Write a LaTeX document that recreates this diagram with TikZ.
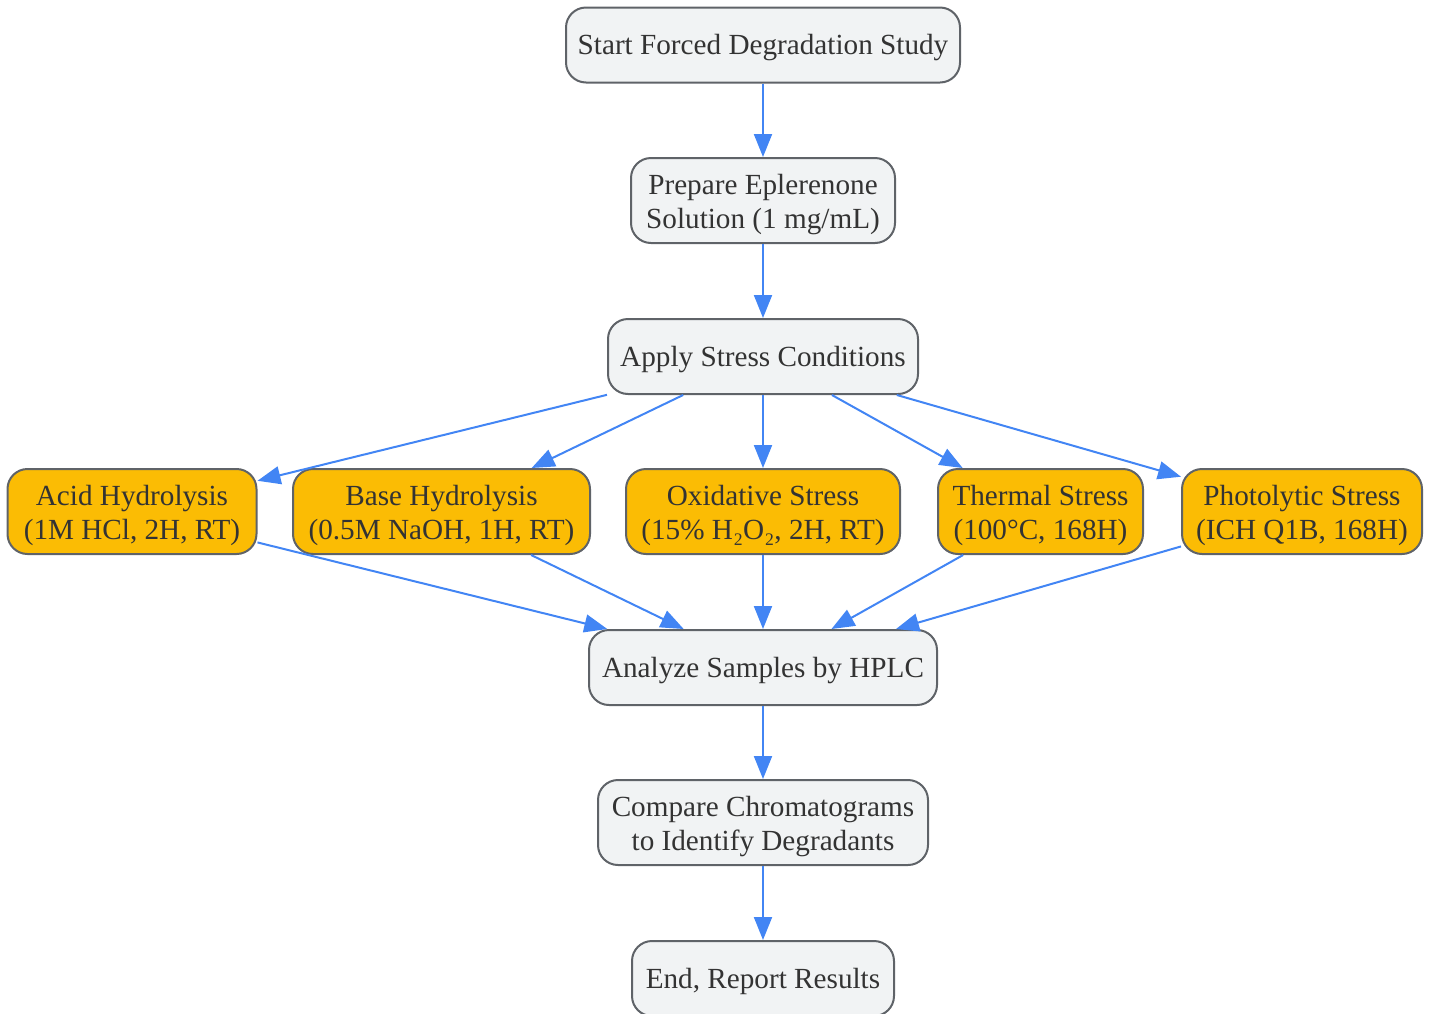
\documentclass[tikz,border=0pt]{standalone}
\usepackage{fontspec}
\setmainfont{Liberation Serif}
\usetikzlibrary{arrows.meta}

\definecolor{boxfill}{HTML}{F1F3F4}
\definecolor{stressfill}{HTML}{FBBC04}
\definecolor{boxline}{HTML}{5F6368}
\definecolor{flowline}{HTML}{4285F4}
\definecolor{boxtext}{HTML}{333333}

\tikzset{
  every box/.style={draw=boxline, line width=1pt, fill=boxfill,
    rounded corners=10pt, align=center, text=boxtext, inner sep=0pt,
    font=\fontsize{14.6}{17}\selectfont, minimum height=37.5pt,
    execute at begin node={\rule{0pt}{13pt}}},
  two lines/.style={minimum height=42.5pt, text height=30.5pt, text depth=3pt},
  every stress/.style={every box, two lines, fill=stressfill},
  flow/.style={->, draw=flowline, line width=1pt}
}

\begin{document}
\begin{tikzpicture}[x=0.5pt, y=-0.5pt, >={Triangle[length=11.5pt, width=9pt]}]

\useasboundingbox (0,0) rectangle (1431,1013);

\node [every box, minimum width=197pt] (start) at (763,45)
  {Start Forced Degradation Study};
\node [every box, two lines, minimum width=132pt] (prepare) at (763,200.5)
  {Prepare Eplerenone\\Solution (1 mg/mL)};
\node [every box, minimum width=155pt] (apply) at (763,356.5)
  {Apply Stress Conditions};

\foreach \x/\w/\l [count=\i] in {
    132/124.5/{Acid Hydrolysis\\(1M HCl, 2H, RT)},
    441.5/148.5/{Base Hydrolysis\\(0.5M NaOH, 1H, RT)},
    763/137/{Oxidative Stress\\(15\% H₂O₂, 2H, RT)},
    1040.5/102.5/{Thermal Stress\\(100°C, 168H)},
    1302/120/{Photolytic Stress\\(ICH Q1B, 168H)}}
  \node [every stress, minimum width=\w pt] (stress-\i) at (\x,511.5) {\l};

\node [every box, minimum width=174pt] (analyze) at (763,667.5)
  {Analyze Samples by HPLC};
\node [every box, two lines, minimum width=165pt] (compare) at (763,822.5)
  {Compare Chromatograms\\to Identify Degradants};
\node [every box, minimum width=131pt] (report) at (763,978.5)
  {End, Report Results};

\draw [flow] (start) -- (prepare);
\draw [flow] (prepare) -- (apply);

\foreach \i in {1,...,5}
  \draw [flow] (apply) -- (stress-\i);

\foreach \i in {1,...,5}
  \draw [flow] (stress-\i) -- (analyze);

\draw [flow] (analyze) -- (compare);
\draw [flow] (compare) -- (report);

\end{tikzpicture}
\end{document}
